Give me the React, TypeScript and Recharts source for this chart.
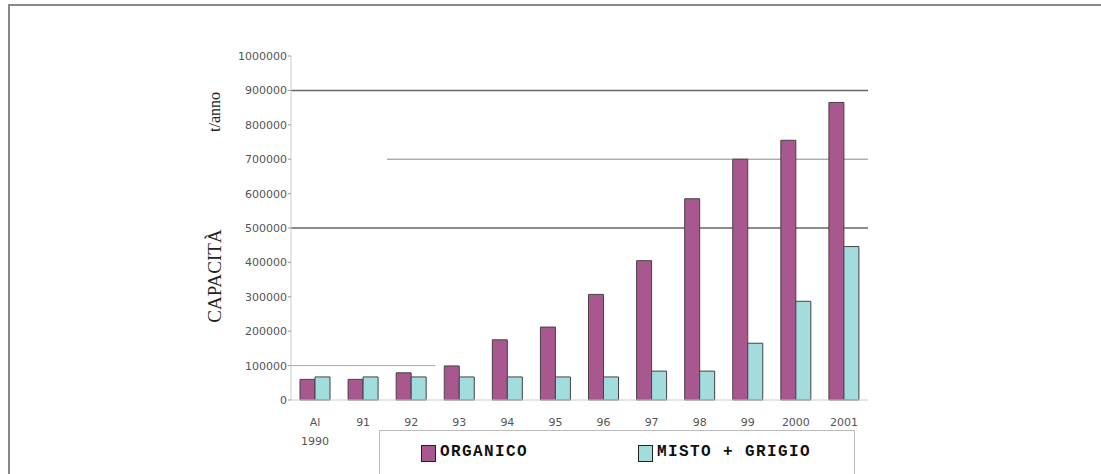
import React from 'react';
import { BarChart, Bar, XAxis, YAxis, ReferenceLine, Legend, Customized } from 'recharts';

const years = ['Al 1990', '91', '92', '93', '94', '95', '96', '97', '98', '99', '2000', '2001'];
const organico = [60000, 60000, 79000, 99000, 175000, 212000, 307000, 405000, 585000, 700000, 755000, 865000];
const mistoGrigio = [67000, 67000, 67000, 67000, 67000, 67000, 67000, 84000, 84000, 165000, 287000, 446000];
const yTicks = [0, 100000, 200000, 300000, 400000, 500000, 600000, 700000, 800000, 900000, 1000000];

const data = years.map((year, i) => ({ year, organico: organico[i], misto: mistoGrigio[i] }));

const ORGANICO_COLOR = '#a8578f';
const MISTO_COLOR = '#a2dcdd';

const YearTick = (props: any) => {
  const { x, y, payload } = props;
  const lines = String(payload.value).split(' ');
  return (
    <g>
      {lines.map((t, i) => (
        <text key={i} x={x} y={y + 18 + i * 19} textAnchor="middle" fill="#555" fontSize={11} fontFamily="DejaVu Sans">
          {t}
        </text>
      ))}
    </g>
  );
};

const AxisTitles = () => (
  <g fill="#222" fontFamily="Liberation Serif">
    <text x={214} y={112} fontSize={16} textAnchor="middle" dominantBaseline="central" transform="rotate(-90 214 112)">
      t/anno
    </text>
    <text x={214} y={276} fontSize={19} textAnchor="middle" dominantBaseline="central" transform="rotate(-90 214 276)">
      CAPACITÀ
    </text>
  </g>
);

const legendText: React.CSSProperties = {
  position: 'absolute',
  top: 12,
  fontFamily: 'Liberation Mono',
  fontWeight: 'bold',
  fontSize: 16,
  lineHeight: '18px',
  letterSpacing: 1.4,
  color: '#111',
  whiteSpace: 'nowrap',
};

const legendSwatch = (color: string, left: number): React.CSSProperties => ({
  position: 'absolute',
  left,
  top: 14,
  width: 13,
  height: 15,
  background: color,
  border: '1.5px solid #222',
});

const LegendBox = () => (
  <div style={{ position: 'relative', width: 476, height: 50, borderTop: '1px solid #bbb', borderLeft: '1px solid #bbb', borderRight: '1px solid #bbb', boxSizing: 'border-box' }}>
    <div style={legendSwatch(ORGANICO_COLOR, 41)} />
    <div style={{ ...legendText, left: 60 }}>ORGANICO</div>
    <div style={legendSwatch(MISTO_COLOR, 258)} />
    <div style={{ ...legendText, left: 277 }}>MISTO + GRIGIO</div>
  </div>
);

export default function App() {
  return (
    <div style={{ position: 'absolute', left: 0, top: 0, width: 1101, height: 474, overflow: 'hidden', background: '#fff' }}>
      <div style={{ position: 'absolute', left: 8, top: 4, right: 0, bottom: 0, borderTop: '2px solid #888', borderLeft: '2px solid #888' }} />
      <div style={{ position: 'absolute', left: 0, top: 0 }}>
        <BarChart
          width={1101}
          height={474}
          data={data}
          margin={{ top: 56, right: 233, left: 231, bottom: 34 }}
          barSize={15}
          barGap={0}
        >
          <XAxis
            dataKey="year"
            height={40}
            interval={0}
            tick={<YearTick />}
            tickLine={false}
            axisLine={{ stroke: '#ccc' }}
          />
          <YAxis
            width={60}
            domain={[0, 1000000]}
            ticks={yTicks}
            interval={0}
            tick={{ fill: '#555', fontSize: 11, fontFamily: 'DejaVu Sans' }}
            tickSize={3}
            tickMargin={1}
            tickLine={{ stroke: '#999' }}
            axisLine={{ stroke: '#ccc' }}
          />
          <YAxis
            yAxisId="right"
            orientation="right"
            width={0}
            domain={[0, 1000000]}
            tick={false}
            tickLine={false}
            axisLine={{ stroke: '#ddd' }}
          />
          <ReferenceLine y={900000} stroke="#666" strokeWidth={1.5} zIndex={100} />
          <ReferenceLine y={500000} stroke="#666" strokeWidth={1.5} zIndex={100} />
          <ReferenceLine
            segment={[{ x: '91', y: 700000 }, { x: '2001', y: 700000 }]}
            position="end"
            ifOverflow="visible"
            stroke="#888"
            zIndex={100}
          />
          <ReferenceLine
            segment={[{ x: 'Al 1990', y: 100000 }, { x: '93', y: 100000 }]}
            position="start"
            stroke="#aaa"
            zIndex={100}
          />
          <Bar dataKey="organico" fill={ORGANICO_COLOR} stroke="#444" strokeWidth={1} isAnimationActive={false} />
          <Bar dataKey="misto" fill={MISTO_COLOR} stroke="#444" strokeWidth={1} isAnimationActive={false} />
          <Legend
            layout="horizontal"
            verticalAlign="middle"
            align="center"
            wrapperStyle={{ left: 379, top: 430, width: 476, height: 50 }}
            content={() => <LegendBox />}
          />
          <Customized component={AxisTitles} />
        </BarChart>
      </div>
    </div>
  );
}
